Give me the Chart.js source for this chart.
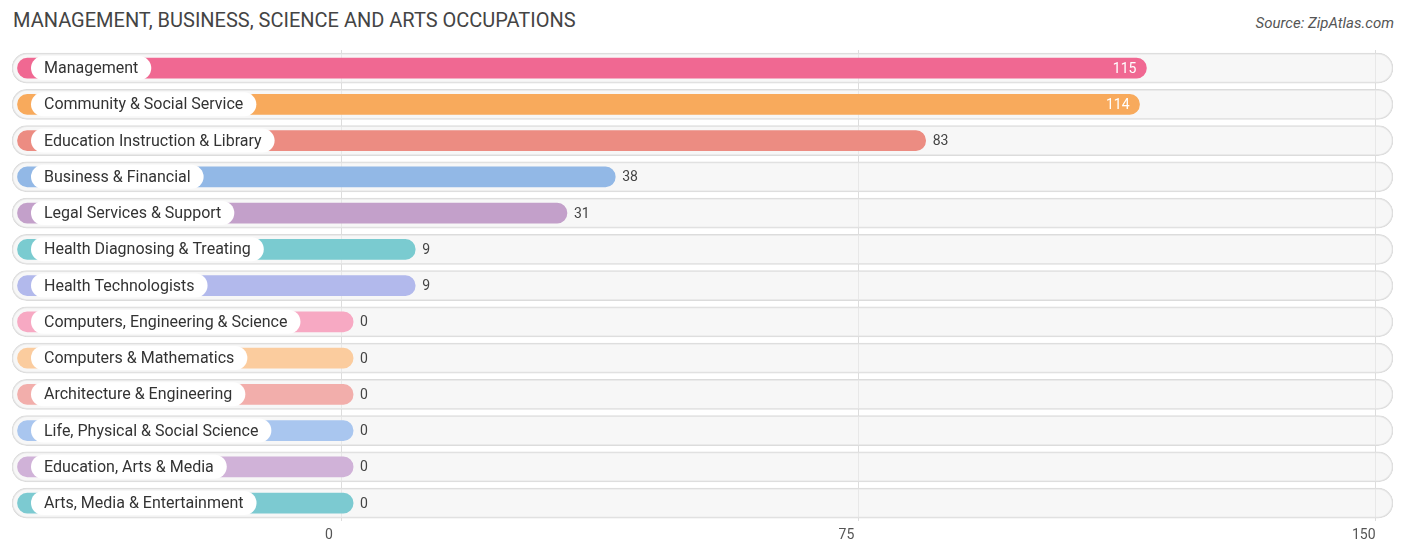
<!DOCTYPE html>
<html>
<head>
<meta charset="UTF-8">
<script src="https://cdn.jsdelivr.net/npm/chart.js"></script>
<style>
  body { margin: 0; background: #fff; font-family: Roboto, sans-serif; }
  #wrap { position: relative; width: 1406px; height: 558px; }
  h1 { position: absolute; left: 13px; top: 8px; margin: 0; font-size: 20px; font-weight: 400; color: #444; }
  .src { position: absolute; right: 12px; top: 14px; font-size: 15px; font-style: italic; color: #555; }
</style>
</head>
<body>
<div id="wrap">
  <h1>MANAGEMENT, BUSINESS, SCIENCE AND ARTS OCCUPATIONS</h1>
  <div class="src">Source: ZipAtlas.com</div>
  <canvas id="c" width="1406" height="558" style="position:absolute;left:0;top:0"></canvas>
</div>
<script>
// Daten
const categories = ['Management', 'Community & Social Service', 'Education Instruction & Library',
  'Business & Financial', 'Legal Services & Support', 'Health Diagnosing & Treating',
  'Health Technologists', 'Computers, Engineering & Science', 'Computers & Mathematics',
  'Architecture & Engineering', 'Life, Physical & Social Science', 'Education, Arts & Media',
  'Arts, Media & Entertainment'];
const values = [115, 114, 83, 38, 31, 9, 9, 0, 0, 0, 0, 0, 0];
const colors = ['#f06892', '#f8aa5c', '#ec8c82', '#92b8e6', '#c3a0ca', '#7acbd0', '#b2b9ec',
  '#f7a9c3', '#fbcc9e', '#f2aeab', '#a9c6ef', '#d0b2d8', '#7ccad1'];
const tickValues = [0, 75, 150];

const xMin = -47.7, xMax = 152.5;
const barStart = -46.9, barPad = 1.75;

const labelPlugin = {
  id: 'labels',
  afterDatasetsDraw(chart) {
    const ctx = chart.ctx;
    const meta = chart.getDatasetMeta(1);
    const xs = chart.scales.x;
    ctx.save();
    ctx.textBaseline = 'middle';
    meta.data.forEach((bar, i) => {
      const y = bar.y;
      const end = xs.getPixelForValue(values[i] + barPad);
      ctx.font = '16px Roboto, sans-serif';
      const w = ctx.measureText(categories[i]).width + 26;
      ctx.fillStyle = '#fff';
      ctx.beginPath();
      ctx.roundRect(31, y - 12, w, 24, 12);
      ctx.fill();
      ctx.fillStyle = '#333';
      ctx.textAlign = 'left';
      ctx.fillText(categories[i], 44, y + 1);
      ctx.font = '14px Roboto, sans-serif';
      if (values[i] > 100) {
        ctx.fillStyle = '#fff';
        ctx.textAlign = 'right';
        ctx.fillText(values[i], end - 10, y + 1);
      } else {
        ctx.fillStyle = '#444';
        ctx.textAlign = 'left';
        ctx.fillText(values[i], end + 7, y + 1);
      }
    });
    ctx.restore();
  }
};

new Chart(document.getElementById('c'), {
  type: 'bar',
  data: {
    labels: categories,
    datasets: [{
      data: categories.map(() => [xMin, xMax]),
      backgroundColor: 'rgba(240,240,240,0.55)',
      borderColor: '#dcdcdc',
      borderWidth: 1,
      borderRadius: 15,
      borderSkipped: false,
      barThickness: 30,
      grouped: false,
      order: 2
    }, {
      data: values.map(v => [barStart, v + barPad]),
      backgroundColor: colors,
      borderRadius: 10,
      borderSkipped: false,
      barThickness: 20,
      grouped: false,
      order: 1
    }]
  },
  options: {
    indexAxis: 'y',
    responsive: false,
    animation: false,
    layout: { padding: { top: 50, left: 12, right: 13, bottom: 8 } },
    plugins: { legend: { display: false }, tooltip: { enabled: false } },
    scales: {
      y: { display: false },
      x: {
        min: xMin, max: xMax,
        afterBuildTicks(axis) { axis.ticks = tickValues.map(v => ({ value: v })); },
        grid: { color: '#dddddd', drawTicks: false },
        border: { display: false },
        ticks: { color: '#555', font: { size: 14, family: 'Roboto' }, padding: 6,
          labelOffset: -12, callback: v => v }
      }
    }
  },
  plugins: [labelPlugin]
});
</script>
</body>
</html>
